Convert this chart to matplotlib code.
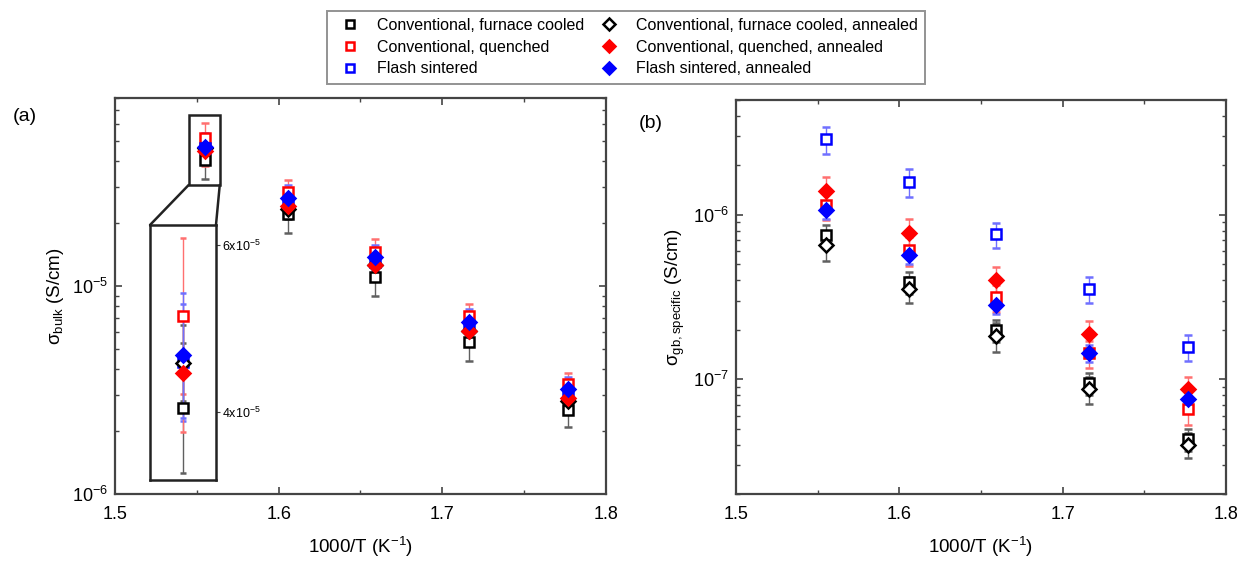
import numpy as np
import matplotlib.pyplot as plt
from matplotlib.patches import Rectangle, ConnectionPatch
from matplotlib.ticker import FixedLocator, MultipleLocator

plt.rcParams['font.family'] = ['Liberation Sans', 'DejaVu Sans']
plt.rcParams['mathtext.fontset'] = 'custom'
plt.rcParams['mathtext.rm'] = 'Liberation Sans'
plt.rcParams['mathtext.it'] = 'Liberation Sans:italic'

# 1000/T positions
inv_T = [1.555, 1.606, 1.659, 1.716, 1.777]

labels = ['Conventional, furnace cooled', 'Conventional, quenched', 'Flash sintered',
          'Conventional, furnace cooled, annealed', 'Conventional, quenched, annealed',
          'Flash sintered, annealed']

# panel (a): bulk conductivity (S/cm)
bulk_fc = [4.05e-5, 2.22e-5, 1.10e-5, 5.38e-6, 2.53e-6]
bulk_fc_err = [0.78e-5, 0.42e-5, 2.0e-6, 1.0e-6, 0.43e-6]
bulk_q = [5.15e-5, 2.83e-5, 1.46e-5, 7.17e-6, 3.38e-6]
bulk_q_err = [0.93e-5, 0.4e-5, 0.22e-5, 1.0e-6, 0.44e-6]
bulk_fs = [4.6e-5, 2.5e-5, 1.3e-5, 6.4e-6, 3.0e-6]
bulk_fs_err = [0.7e-5, 0.37e-5, 0.2e-5, 1.0e-6, 0.45e-6]
bulk_fc_an = [4.59e-5, 2.35e-5, 1.26e-5, 6.08e-6, 2.8e-6]
bulk_fc_an_err = [0.45e-5, 0.24e-5, 0.13e-5, 0.6e-6, 0.28e-6]
bulk_q_an = [4.47e-5, 2.42e-5, 1.26e-5, 6.1e-6, 2.9e-6]
bulk_q_an_err = [0.7e-5, 0.3e-5, 0.15e-5, 0.7e-6, 0.3e-6]
bulk_fs_an = [4.68e-5, 2.65e-5, 1.38e-5, 6.71e-6, 3.2e-6]
bulk_fs_an_err = [0.75e-5, 0.4e-5, 0.2e-5, 1.0e-6, 0.45e-6]

# panel (b): specific grain boundary conductivity (S/cm)
gb_fc = [7.55e-7, 3.9e-7, 1.99e-7, 9.45e-8, 4.3e-8]
gb_fc_err = [1.1e-7, 0.6e-7, 0.3e-7, 1.4e-8, 0.65e-8]
gb_q = [1.15e-6, 6.1e-7, 3.16e-7, 1.44e-7, 6.56e-8]
gb_q_err = [2.2e-7, 1.2e-7, 0.6e-7, 0.27e-7, 1.3e-8]
gb_fs = [2.9e-6, 1.59e-6, 7.6e-7, 3.54e-7, 1.57e-7]
gb_fs_err = [0.54e-6, 0.3e-6, 1.3e-7, 0.65e-7, 0.28e-7]
gb_fc_an = [6.56e-7, 3.54e-7, 1.83e-7, 8.7e-8, 4.0e-8]
gb_fc_an_err = [1.3e-7, 0.64e-7, 0.37e-7, 1.65e-8, 0.7e-8]
gb_q_an = [1.4e-6, 7.76e-7, 4.01e-7, 1.88e-7, 8.7e-8]
gb_q_an_err = [0.3e-6, 1.7e-7, 0.8e-7, 0.38e-7, 1.6e-8]
gb_fs_an = [1.07e-6, 5.7e-7, 2.83e-7, 1.44e-7, 7.55e-8]
gb_fs_an_err = [1.3e-7, 0.7e-7, 0.35e-7, 0.17e-7, 0.9e-8]

colors = ['black', '#ff0000', '#0000ff', 'black', '#ff0000', '#0000ff']
err_colors = ['#606060', '#ff7070', '#7070ff', '#606060', '#ff7070', '#7070ff']
markers = ['s', 's', 's', 'D', 'D', 'D']
faces = ['white', 'white', 'white', 'white', '#ff0000', '#0000ff']

bulk = [(bulk_fc, bulk_fc_err), (bulk_q, bulk_q_err), (bulk_fs, bulk_fs_err),
        (bulk_fc_an, bulk_fc_an_err), (bulk_q_an, bulk_q_an_err), (bulk_fs_an, bulk_fs_an_err)]
gb = [(gb_fc, gb_fc_err), (gb_q, gb_q_err), (gb_fs, gb_fs_err),
      (gb_fc_an, gb_fc_an_err), (gb_q_an, gb_q_an_err), (gb_fs_an, gb_fs_an_err)]

spine_col = '#444444'


def draw_series(ax, series, ms_sq=7.5, ms_d=7.5, cap=3):
    handles = []
    for (vals, errs), c, ec, m, fc, lab in zip(series, colors, err_colors, markers, faces, labels):
        ms = ms_sq if m == 's' else ms_d
        h = ax.errorbar(inv_T, vals, yerr=errs, fmt=m, color=c, ecolor=ec, elinewidth=1,
                        capsize=cap, capthick=1, ms=ms, mfc=fc, mec=c, mew=1.8, label=lab)
        handles.append(h)
    return handles


def style_axes(ax):
    for s in ax.spines.values():
        s.set_color(spine_col)
        s.set_linewidth(1.6)
    ax.tick_params(which='both', direction='in', top=True, right=True, color=spine_col,
                   labelsize=13)
    ax.tick_params(axis='x', which='both', pad=9)
    ax.tick_params(axis='y', which='both', pad=5)
    ax.tick_params(which='major', length=5, width=1.2)
    ax.tick_params(which='minor', length=3, width=1)


fig = plt.figure(figsize=(12.42, 5.63), dpi=100)
ax1 = fig.add_axes([0.0926, 0.1226, 0.3953, 0.703])
ax2 = fig.add_axes([0.5926, 0.1226, 0.3945, 0.6998])

handles = draw_series(ax1, bulk)
draw_series(ax2, gb)

for ax in (ax1, ax2):
    ax.set_yscale('log')
    ax.set_xlim(1.5, 1.8)
    ax.xaxis.set_major_locator(FixedLocator([1.5, 1.6, 1.7, 1.8]))
    ax.xaxis.set_minor_locator(MultipleLocator(0.05))
    ax.set_xlabel('1000/T (K$^{-1}$)', fontsize=13.5, labelpad=8)
    style_axes(ax)

ax1.set_ylim(1e-6, 8e-5)
ax2.set_ylim(2e-8, 5e-6)
ax1.set_ylabel('σ$_{\\mathrm{bulk}}$ (S/cm)', fontsize=13.5, labelpad=4)
ax2.set_ylabel('σ$_{\\mathrm{gb,specific}}$ (S/cm)', fontsize=13.5, labelpad=4)

fig.text(0.010, 0.785, '(a)', fontsize=14)
fig.text(0.514, 0.772, '(b)', fontsize=14)

# zoomed inset of the first group in (a)
zx0, zx1 = 1.545, 1.564
zy0, zy1 = 3.06e-5, 6.63e-5
ax1.add_patch(Rectangle((zx0, zy0), zx1 - zx0, zy1 - zy0, fill=False, ec='#222222',
                        lw=1.8, zorder=5))

axins = fig.add_axes([0.1208, 0.1474, 0.0531, 0.453])
draw_series(axins, bulk, ms_sq=7, ms_d=7, cap=2)
axins.set_xlim(1.535, 1.575)
axins.set_ylim(3.19e-5, 6.24e-5)
axins.set_xticks([])
axins.yaxis.tick_right()
axins.set_yticks([4e-5, 6e-5])
axins.set_yticklabels(['4x10$^{-5}$', '6x10$^{-5}$'])
axins.tick_params(axis='y', direction='out', length=3, labelsize=9, color=spine_col,
                  pad=1)
for s in axins.spines.values():
    s.set_color('#222222')
    s.set_linewidth(1.8)

for xa, ya, xb in [(zx0, zy0, 0), (zx1, zy0, 1)]:
    con = ConnectionPatch(xyA=(xa, ya), coordsA=ax1.transData, xyB=(xb, 1),
                          coordsB=axins.transAxes, color='#222222', lw=1.8)
    fig.add_artist(con)

leg = fig.legend([h[0] for h in handles], labels, ncol=2,
                 loc='upper center', bbox_to_anchor=(0.504, 0.995), fontsize=11.5,
                 frameon=True, fancybox=False, edgecolor='#777777', handletextpad=0.7,
                 columnspacing=0.5, borderpad=0.45, labelspacing=0.42, markerscale=0.85)
leg.get_frame().set_linewidth(1.4)

fig.savefig('out.png', dpi=100)
